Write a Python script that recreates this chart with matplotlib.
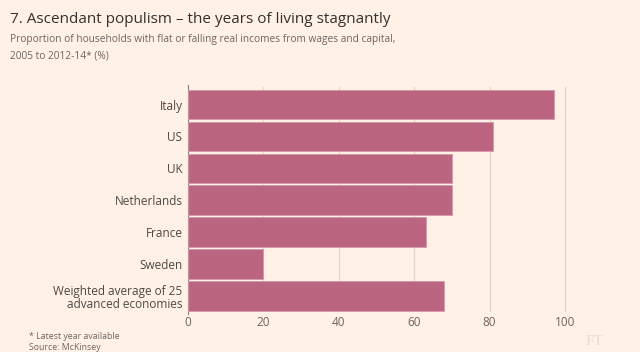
import matplotlib.pyplot as plt

plt.rcParams["font.family"] = ["Open Sans", "DejaVu Sans"]

countries = ["Italy", "US", "UK", "Netherlands", "France", "Sweden",
             "Weighted average of 25\nadvanced economies"]
shares = [97, 81, 70, 70, 63, 20, 68]
ticks = [0, 20, 40, 60, 80, 100]

bg = "#FFF1E5"
fig = plt.figure(figsize=(6.4, 3.52), dpi=100, facecolor=bg)
ax = fig.add_axes([188 / 640, 1 - 312 / 352, 377 / 640 * 1.15, 225 / 352])
ax.set_facecolor(bg)

y = range(len(countries))
ax.barh(y, shares, height=0.93, color="#BC6580", edgecolor="#D39AA9", linewidth=0.6, zorder=3)
ax.set_ylim(len(countries) - 0.5, -0.55)
ax.set_xlim(0, 115)
ax.set_xticks(ticks)
ax.set_yticks(list(y))
ax.set_yticklabels(countries, fontsize=8.5, color="#4d4845", linespacing=1.0)
ax.set_xticklabels([str(t) for t in ticks], fontsize=8.5, color="#6b6560")
ax.tick_params(axis="y", length=0, pad=4)
ax.tick_params(axis="x", length=0, pad=3)
ax.grid(axis="x", color="#E0D6CD", linewidth=0.9, zorder=0)
for s in ["top", "right", "bottom"]:
    ax.spines[s].set_visible(False)
ax.spines["left"].set_color("#8a8480")
ax.spines["left"].set_linewidth(0.8)
ax.spines["left"].set_bounds(len(countries) - 0.45, -0.6)

fig.text(0.016, 0.945, "7. Ascendant populism \u2013 the years of living stagnantly",
         fontsize=11, color="#33302e", va="center")
fig.text(0.016, 0.888, "Proportion of households with flat or falling real incomes from wages and capital,",
         fontsize=7.3, color="#6b6560", va="center")
fig.text(0.016, 0.84, "2005 to 2012-14* (%)", fontsize=7.3, color="#6b6560", va="center")
fig.text(0.045, 0.045, "* Latest year available", fontsize=6.3, color="#6b6560", va="center")
fig.text(0.045, 0.013, "Source: McKinsey", fontsize=6.3, color="#6b6560", va="center")
fig.text(0.915, 0.03, "FT", fontsize=11, color="#E8DCD2", family="Liberation Serif", va="center")

fig.savefig("out.png", dpi=100, facecolor=bg)
